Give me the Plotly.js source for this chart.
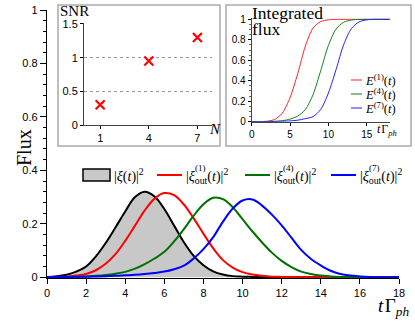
<!DOCTYPE html>
<html>
<head>
<meta charset="utf-8">
<script src="https://cdn.plot.ly/plotly-3.0.1.min.js"></script>
<style>
  html, body { margin: 0; padding: 0; background: #fff; }
  #plot { width: 415px; height: 326px; }
</style>
</head>
<body>
<div id="plot"></div>
<script>
// main panel: pulse shapes, t from 0 to 18 in steps of 0.5
let tMain = [0, 0.5, 1, 1.5, 2, 2.5, 3, 3.5, 4, 4.5, 5, 5.5, 6, 6.5, 7, 7.5, 8, 8.5, 9,
    9.5, 10, 10.5, 11, 11.5, 12, 12.5, 13, 13.5, 14, 14.5, 15, 15.5, 16, 16.5, 17, 17.5, 18];
let xiIn = [0.001, 0.004, 0.009, 0.021, 0.040, 0.078, 0.128, 0.186, 0.246, 0.300, 0.320, 0.302,
    0.255, 0.193, 0.131, 0.080, 0.045, 0.022, 0.010, 0.004, 0.002, 0.001,
    0, 0, 0, 0, 0, 0, 0, 0, 0, 0, 0, 0, 0, 0, 0];
let xiOut1 = [0, 0.001, 0.002, 0.006, 0.012, 0.026, 0.050, 0.086, 0.136, 0.193, 0.250, 0.294,
    0.315, 0.307, 0.272, 0.220, 0.163, 0.108, 0.064, 0.036, 0.019, 0.010, 0.005, 0.002, 0.001,
    0, 0, 0, 0, 0, 0, 0, 0, 0, 0, 0, 0];
let xiOut4 = [0, 0, 0.001, 0.001, 0.003, 0.005, 0.008, 0.013, 0.020, 0.032, 0.049, 0.070,
    0.095, 0.134, 0.180, 0.230, 0.273, 0.297, 0.292, 0.262, 0.217, 0.172, 0.130, 0.092, 0.061,
    0.038, 0.021, 0.012, 0.006, 0.003, 0.001, 0, 0, 0, 0, 0, 0];
let xiOut7 = [0, 0.001, 0.001, 0.002, 0.002, 0.003, 0.004, 0.005, 0.007, 0.009, 0.012, 0.016,
    0.021, 0.030, 0.043, 0.070, 0.105, 0.150, 0.208, 0.257, 0.287, 0.291, 0.268, 0.234, 0.194,
    0.148, 0.102, 0.068, 0.044, 0.024, 0.012, 0.006, 0.003, 0.001, 0, 0, 0];
let pulseLabels = ['(1)', '(4)', '(7)'];

// inset: SNR against N
let nVals = [1, 4, 7];
let snrVals = [0.30, 0.95, 1.30];

// inset: integrated flux, t = 0..18
let tInt = [0, 1, 2, 3, 4, 5, 6, 7, 8, 9, 10, 11, 12, 13, 14, 15, 16, 17, 18];
let E1 = [0, 0, 0.005, 0.022, 0.085, 0.235, 0.47, 0.74, 0.915, 0.978, 0.995, 0.999, 1, 1, 1, 1, 1, 1, 1];
let E4 = [0, 0, 0.001, 0.004, 0.010, 0.025, 0.055, 0.12, 0.265, 0.50, 0.745, 0.905, 0.972, 0.993, 0.999, 1, 1, 1, 1];
let E7 = [0, 0, 0.001, 0.002, 0.004, 0.008, 0.015, 0.03, 0.05, 0.12, 0.28, 0.51, 0.755, 0.91, 0.975, 0.995, 1, 1, 1];

let serif = 'Liberation Serif, Times New Roman, serif';
let sans = 'Liberation Sans, Arial, sans-serif';
let cRed = '#ff0000', cGreen = '#007000', cBlue = '#0000ff';
let cInset = ['#ff2020', '#10801a', '#2020ff'];

// pixel helpers -> paper coords (plot area is 47..399 x 10..278)
function px(x) { return (x - 47) / 352; }
function py(y) { return (278 - y) / 268; }

let traces = [
    {x: tMain, y: xiIn, mode: 'lines', line: {color: '#000', width: 2, shape: 'spline'},
     fill: 'tozeroy', fillcolor: '#c8c8c8', showlegend: false},
    {x: tMain, y: xiOut1, mode: 'lines', line: {color: cRed, width: 2, shape: 'spline'}, showlegend: false},
    {x: tMain, y: xiOut4, mode: 'lines', line: {color: cGreen, width: 2, shape: 'spline'}, showlegend: false},
    {x: tMain, y: xiOut7, mode: 'lines', line: {color: cBlue, width: 2, shape: 'spline'}, showlegend: false},
    {x: nVals, y: snrVals, xaxis: 'x2', yaxis: 'y2', mode: 'markers', showlegend: false,
     marker: {symbol: 'x-thin', size: 9, color: cRed, line: {color: cRed, width: 2.2}}},
    {x: tInt, y: E1, xaxis: 'x3', yaxis: 'y3', mode: 'lines', showlegend: false,
     line: {color: cInset[0], width: 1, shape: 'spline', smoothing: 0.8}},
    {x: tInt, y: E4, xaxis: 'x3', yaxis: 'y3', mode: 'lines', showlegend: false,
     line: {color: cInset[1], width: 1, shape: 'spline', smoothing: 0.8}},
    {x: tInt, y: E7, xaxis: 'x3', yaxis: 'y3', mode: 'lines', showlegend: false,
     line: {color: cInset[2], width: 1, shape: 'spline', smoothing: 0.8}}
];

let axBase = {showline: true, linecolor: '#000', linewidth: 1.2, ticks: 'outside', tickcolor: '#000',
    showgrid: false, zeroline: false, tickfont: {family: sans, size: 11, color: '#000'}};

let shapes = [
    {type: 'rect', xref: 'paper', yref: 'paper', x0: px(58), x1: px(220), y0: py(146), y1: py(5),
     layer: 'below', line: {color: '#aaa', width: 1.5}, fillcolor: '#fff'},
    {type: 'rect', xref: 'paper', yref: 'paper', x0: px(226), x1: px(411), y0: py(146), y1: py(5),
     layer: 'below', line: {color: '#aaa', width: 1.5}, fillcolor: '#fff'},
    // main legend keys
    {type: 'rect', xref: 'paper', yref: 'paper', x0: px(83), x1: px(110), y0: py(181), y1: py(169),
     line: {color: '#000', width: 1.5}, fillcolor: '#c8c8c8'}
];
let annotations = [
    {text: 'Flux', x: px(12), y: py(148), textangle: -90, font: {family: serif, size: 20}},
    {text: '<i>t</i>&#8202;Γ<sub><i>ph</i></sub>', x: px(411), xanchor: 'right', y: py(307), font: {family: serif, size: 19}},
    {text: 'SNR', x: px(59), xanchor: 'left', y: py(10.5), font: {family: serif, size: 15}},
    {text: 'Integrated', x: px(251), xanchor: 'left', y: py(13), font: {family: serif, size: 17.5}},
    {text: 'flux', x: px(251), xanchor: 'left', y: py(28.5), font: {family: serif, size: 17.5}},
    {text: '<i>N</i>', x: px(215), y: py(129), font: {family: serif, size: 15}},
    {text: '<i>t</i>&#8202;Γ<sub><i>ph</i></sub>', x: px(398), y: py(130), font: {family: serif, size: 12}},
    {text: '|<i>ξ</i>(<i>t</i>)|<sup>2</sup>', x: px(113), xanchor: 'left', y: py(175), font: {family: serif, size: 14}}
];

// main legend: lines + |xi_out^(k)(t)|^2
let keyX = [157, 245, 331];
let keyColors = [cRed, cGreen, cBlue];
for (let k = 0; k < 3; k++) {
    shapes.push({type: 'line', xref: 'paper', yref: 'paper', x0: px(keyX[k]), x1: px(keyX[k] + 25),
        y0: py(175), y1: py(175), line: {color: keyColors[k], width: 2}});
    annotations.push({text: '|<i>ξ</i><sub>out</sub>(<i>t</i>)|<sup>2</sup>', x: px(keyX[k] + 28), xanchor: 'left',
        y: py(176), font: {family: serif, size: 14}});
    annotations.push({text: pulseLabels[k], x: px(keyX[k] + 37), xanchor: 'left',
        y: py(168), font: {family: serif, size: 9}});
}
// inset legend: E^(k)(t)
let insetKeyY = [80, 94, 108];
for (let k = 0; k < 3; k++) {
    shapes.push({type: 'line', xref: 'paper', yref: 'paper', x0: px(351), x1: px(362),
        y0: py(insetKeyY[k]), y1: py(insetKeyY[k]), line: {color: cInset[k], width: 1}});
    annotations.push({text: '<i>E</i><sup>' + pulseLabels[k] + '</sup>(<i>t</i>)', x: px(364), xanchor: 'left',
        y: py(insetKeyY[k]), font: {family: serif, size: 12.5}});
}
annotations.forEach(function(a) {
    a.xref = 'paper';
    a.yref = 'paper';
    a.showarrow = false;
    a.borderpad = 0;
    if (!a.yanchor) a.yanchor = 'middle';
    a.font.color = '#000';
});

let layout = {
    width: 415, height: 326,
    margin: {l: 47, r: 16, t: 10, b: 48},
    paper_bgcolor: '#fff', plot_bgcolor: 'rgba(0,0,0,0)',
    showlegend: false,
    xaxis: Object.assign({}, axBase, {range: [0, 18], dtick: 2, ticklen: 5, anchor: 'y', domain: [0, 1]}),
    yaxis: Object.assign({}, axBase, {range: [-0.003, 1], dtick: 0.2, ticklen: 6, anchor: 'x', domain: [0, 1],
        minor: {dtick: 0.04, ticks: 'outside', ticklen: 3, tickcolor: '#000'}}),
    xaxis2: Object.assign({}, axBase, {range: [0, 7.9], tickvals: nVals, ticklen: 3, anchor: 'y2',
        domain: [px(84), px(212)], linecolor: '#444', linewidth: 1}),
    yaxis2: Object.assign({}, axBase, {range: [0, 1.51], tickvals: [0, 0.5, 1, 1.5], ticklen: 3, anchor: 'x2',
        domain: [py(125), py(23.3)], linecolor: '#444', linewidth: 1,
        showgrid: true, gridcolor: '#999', griddash: 'dot', gridwidth: 1}),
    xaxis3: Object.assign({}, axBase, {range: [0, 18], tickvals: [0, 5, 10, 15], ticklen: 3, anchor: 'y3',
        domain: [px(251.7), px(389.8)], linecolor: '#444', linewidth: 1,
        tickfont: {family: sans, size: 10, color: '#000'}}),
    yaxis3: Object.assign({}, axBase, {range: [0, 1.01], dtick: 0.2, ticklen: 3, anchor: 'x3',
        domain: [py(121.7), py(18.3)], linecolor: '#444', linewidth: 1,
        tickfont: {family: sans, size: 10, color: '#000'},
        minor: {dtick: 0.05, ticks: 'outside', ticklen: 1.5, tickcolor: '#666'}}),
    shapes: shapes,
    annotations: annotations
};

Plotly.newPlot('plot', traces, layout, {staticPlot: true, displayModeBar: false});
</script>
</body>
</html>
